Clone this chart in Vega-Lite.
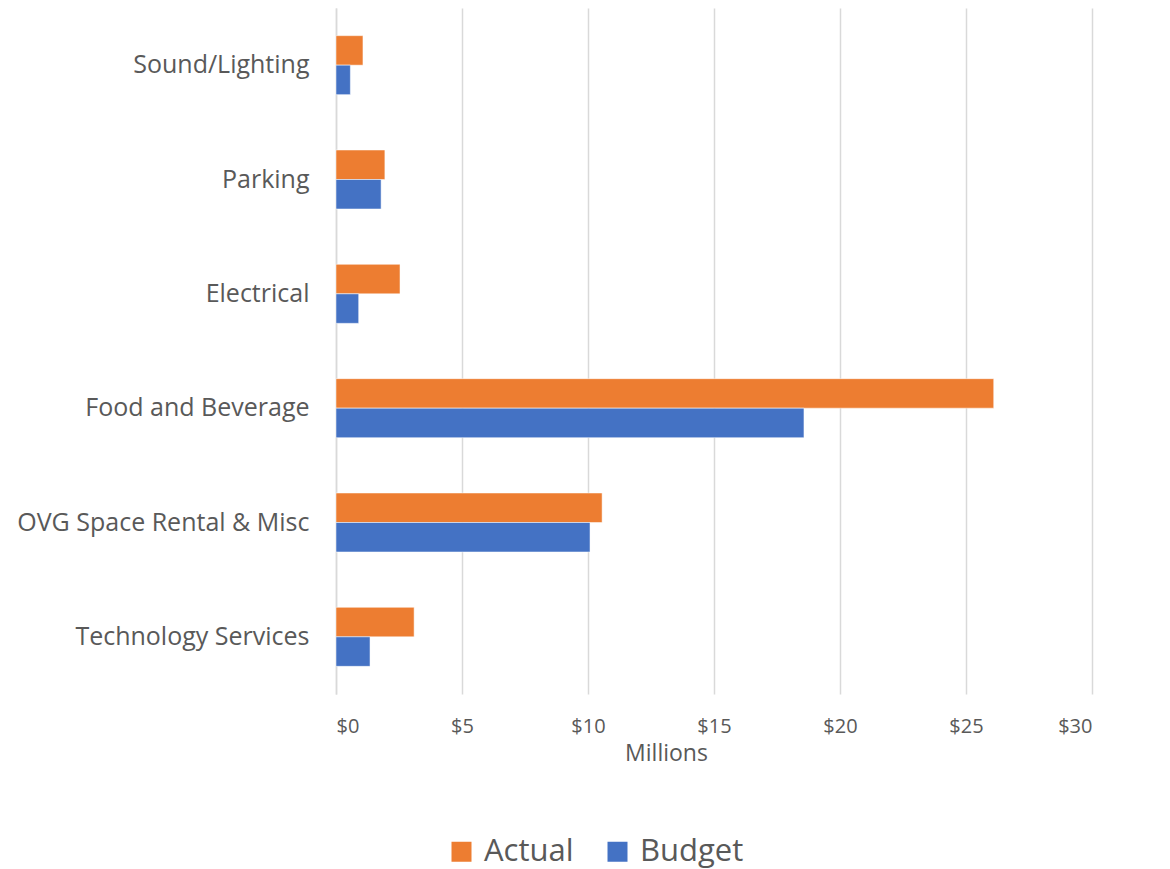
{
  "$schema": "https://vega.github.io/schema/vega-lite/v6.json",
  "width": 756,
  "height": 686,
  "autosize": {"type": "none"},
  "padding": {"left": 336, "top": 8, "right": 78, "bottom": 175},
  "background": "white",
  "config": {
    "view": {"stroke": null},
    "font": "Open Sans"
  },
  "data": {
    "values": [
      {"category": "Sound/Lighting", "series": "Actual", "value": 1.07},
      {"category": "Sound/Lighting", "series": "Budget", "value": 0.57},
      {"category": "Parking", "series": "Actual", "value": 1.94},
      {"category": "Parking", "series": "Budget", "value": 1.79},
      {"category": "Electrical\u00a0", "series": "Actual", "value": 2.54},
      {"category": "Electrical\u00a0", "series": "Budget", "value": 0.9},
      {"category": "Food and Beverage", "series": "Actual", "value": 26.1},
      {"category": "Food and Beverage", "series": "Budget", "value": 18.57},
      {"category": "OVG Space Rental & Misc", "series": "Actual", "value": 10.56},
      {"category": "OVG Space Rental & Misc", "series": "Budget", "value": 10.08},
      {"category": "Technology Services", "series": "Actual", "value": 3.1},
      {"category": "Technology Services", "series": "Budget", "value": 1.35}
    ]
  },
  "mark": {"type": "bar", "stroke": "white", "strokeWidth": 0.5},
  "encoding": {
    "y": {
      "field": "category",
      "type": "nominal",
      "sort": ["Sound/Lighting", "Parking", "Electrical\u00a0", "Food and Beverage", "OVG Space Rental & Misc", "Technology Services"],
      "scale": {"paddingInner": 0.484, "paddingOuter": 0.242},
      "axis": {
        "title": null,
        "ticks": false,
        "domain": true,
        "domainColor": "#d9d9d9",
        "domainWidth": 1.5,
        "labelFontSize": 25,
        "labelColor": "#595959",
        "labelPadding": 27,
        "labelLimit": 0,
        "labelFont": "Open Sans"
      }
    },
    "yOffset": {
      "field": "series",
      "type": "nominal",
      "sort": ["Actual", "Budget"],
      "scale": {"paddingInner": 0, "paddingOuter": 0}
    },
    "x": {
      "field": "value",
      "type": "quantitative",
      "scale": {"domain": [0, 30], "nice": false},
      "axis": {
        "title": "Millions",
        "values": [0, 5, 10, 15, 20, 25, 30],
        "format": "$d",
        "domain": false,
        "ticks": false,
        "grid": true,
        "gridColor": "#d9d9d9",
        "gridWidth": 1.5,
        "labelFontSize": 20,
        "labelColor": "#595959",
        "labelPadding": 22,
        "labelFont": "Open Sans",
        "titleFont": "Open Sans",
        "titleFontSize": 23,
        "titleFontWeight": "normal",
        "titleColor": "#595959",
        "titleX": 330,
        "titleY": 59,
        "titleAlign": "center",
        "titleBaseline": "middle"
      }
    },
    "color": {
      "field": "series",
      "type": "nominal",
      "sort": ["Actual", "Budget"],
      "scale": {"domain": ["Actual", "Budget"], "range": ["#ED7D31", "#4472C4"]},
      "legend": {
        "title": null,
        "orient": "none",
        "direction": "horizontal",
        "legendX": 110,
        "legendY": 828,
        "padding": 0,
        "symbolType": "square",
        "symbolSize": 400,
        "symbolStrokeWidth": 0,
        "labelFontSize": 31,
        "labelColor": "#595959",
        "labelFont": "Open Sans",
        "labelOffset": 7,
        "columnPadding": 28
      }
    }
  }
}
